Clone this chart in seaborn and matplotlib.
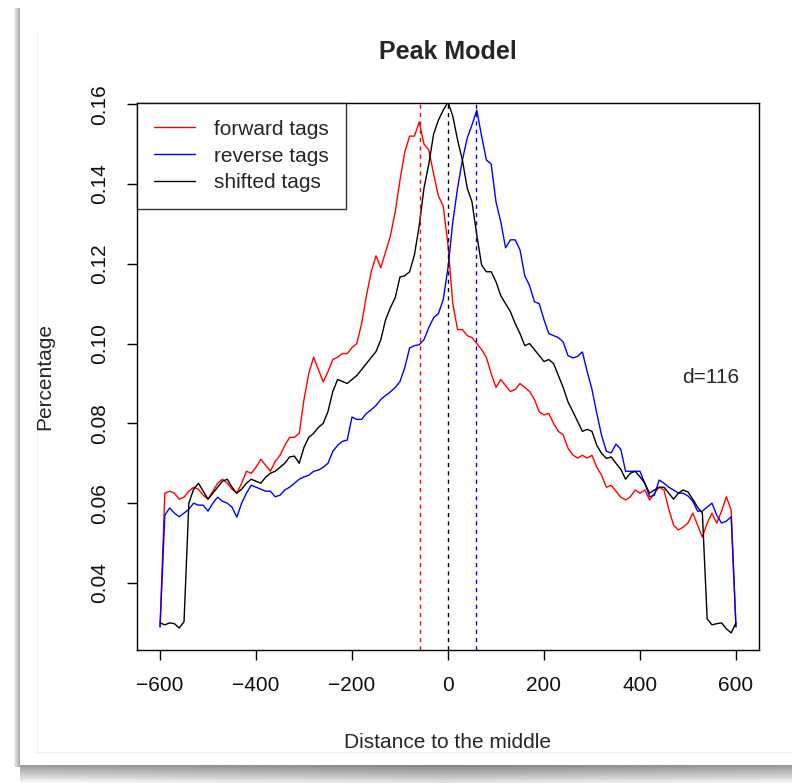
import numpy as np
import pandas as pd
import matplotlib
matplotlib.use("Agg")
import matplotlib.pyplot as plt
import seaborn as sns
from matplotlib.lines import Line2D

# ---------------- data ----------------
distance = list(range(-600, 601, 10))

forward_tags = [
    0.029, 0.0625, 0.063, 0.0625, 0.061, 0.0615, 0.063, 0.064, 0.0635, 0.062,
    0.061, 0.063, 0.065, 0.066, 0.065, 0.0635, 0.0625, 0.065, 0.068, 0.0675,
    0.069, 0.071, 0.0695, 0.068, 0.0705, 0.072, 0.0745, 0.0765, 0.0765, 0.0775,
    0.086, 0.0926, 0.0966, 0.0935, 0.0904, 0.093, 0.096, 0.0966, 0.0975, 0.0975,
    0.099, 0.100, 0.105, 0.112, 0.118, 0.122, 0.119, 0.123, 0.127, 0.133,
    0.141, 0.148, 0.152, 0.152, 0.1555, 0.150, 0.1485, 0.1425, 0.137, 0.1345,
    0.1247, 0.110, 0.1035, 0.1035, 0.102, 0.1015, 0.100, 0.0985, 0.0965, 0.0925,
    0.089, 0.091, 0.0895, 0.088, 0.0885, 0.090, 0.089, 0.088, 0.086, 0.0829,
    0.0821, 0.0825, 0.080, 0.078, 0.0771, 0.0738, 0.0721, 0.0713, 0.072, 0.0713,
    0.072, 0.069, 0.067, 0.064, 0.0645, 0.063, 0.0615, 0.0608, 0.0616, 0.0633,
    0.0625, 0.0633, 0.0608, 0.0625, 0.064, 0.0633, 0.0585, 0.0545, 0.0533, 0.054,
    0.055, 0.0575, 0.0545, 0.0515, 0.055, 0.0575, 0.055, 0.058, 0.0616, 0.0583,
    0.029,
]

reverse_tags = [
    0.029, 0.057, 0.0588, 0.0575, 0.0566, 0.0575, 0.0585, 0.060, 0.0595, 0.0595,
    0.058, 0.060, 0.0615, 0.0605, 0.060, 0.059, 0.0565, 0.060, 0.0625, 0.0645,
    0.064, 0.0635, 0.063, 0.063, 0.0616, 0.062, 0.0633, 0.064, 0.065, 0.066,
    0.0666, 0.067, 0.068, 0.0683, 0.069, 0.070, 0.073, 0.0745, 0.0755, 0.0758,
    0.0816, 0.081, 0.081, 0.0825, 0.0834, 0.0845, 0.086, 0.087, 0.0879, 0.089,
    0.0905, 0.094, 0.0989, 0.0995, 0.0997, 0.101, 0.104, 0.1065, 0.1075, 0.111,
    0.119, 0.1305, 0.139, 0.146, 0.1515, 0.1548, 0.1585, 0.152, 0.146, 0.145,
    0.1355, 0.1305, 0.124, 0.126, 0.126, 0.1235, 0.117, 0.1145, 0.1105, 0.110,
    0.106, 0.1025, 0.102, 0.1015, 0.1004, 0.097, 0.0964, 0.0968, 0.0979, 0.093,
    0.0885, 0.0825, 0.077, 0.073, 0.0726, 0.0748, 0.0735, 0.068, 0.068, 0.068,
    0.068, 0.065, 0.0616, 0.062, 0.0658, 0.065, 0.064, 0.0633, 0.0625, 0.0625,
    0.0618, 0.0605, 0.058, 0.058, 0.059, 0.060, 0.057, 0.055, 0.0555, 0.0566,
    0.029,
]

shifted_tags = [
    0.030, 0.0295, 0.030, 0.0298, 0.0287, 0.0303, 0.060, 0.0635, 0.065, 0.063,
    0.061, 0.0625, 0.064, 0.0655, 0.066, 0.064, 0.0625, 0.0635, 0.065, 0.066,
    0.0655, 0.065, 0.0665, 0.0675, 0.068, 0.069, 0.070, 0.0716, 0.0718, 0.070,
    0.074, 0.0765, 0.0775, 0.079, 0.080, 0.083, 0.088, 0.091, 0.0905, 0.090,
    0.091, 0.092, 0.0935, 0.095, 0.0965, 0.098, 0.101, 0.106, 0.109, 0.1115,
    0.1167, 0.117, 0.118, 0.1222, 0.1295, 0.139, 0.145, 0.1525, 0.156, 0.1585,
    0.1605, 0.157, 0.151, 0.146, 0.139, 0.1355, 0.1272, 0.1197, 0.118, 0.118,
    0.1155, 0.112, 0.110, 0.108, 0.105, 0.1025, 0.0995, 0.100, 0.0985, 0.097,
    0.0955, 0.096, 0.095, 0.092, 0.089, 0.0854, 0.083, 0.0805, 0.078, 0.0785,
    0.078, 0.0745, 0.0725, 0.0712, 0.0716, 0.070, 0.0685, 0.066, 0.0675, 0.068,
    0.0666, 0.065, 0.0625, 0.0633, 0.064, 0.064, 0.0625, 0.061, 0.0625, 0.0633,
    0.0628, 0.061, 0.059, 0.0575, 0.031, 0.0295, 0.0298, 0.030, 0.0285, 0.0275,
    0.030,
]

series_names = ["forward tags", "reverse tags", "shifted tags"]
series_colors = ["#ff0000", "#0000ff", "#000000"]
peak_positions = [-58, 58, 0]   # dotted lines: forward, reverse, shifted
d_value = 116

x_ticks = [-600, -400, -200, 0, 200, 400, 600]
y_ticks = [0.04, 0.06, 0.08, 0.10, 0.12, 0.14, 0.16]

# ---------------- build long-form table ----------------
df = pd.concat([
    pd.DataFrame({"distance": distance, "percentage": vals, "tag": name})
    for name, vals in zip(series_names, [forward_tags, reverse_tags, shifted_tags])
], ignore_index=True)

sns.set_style("white")
plt.rcParams["font.family"] = ["Liberation Sans", "DejaVu Sans"]

W, H = 792, 783
fig = plt.figure(figsize=(W / 100, H / 100), dpi=100, facecolor="white")

# ---------------- card / shadow background ----------------
bg = fig.add_axes([0, 0, 1, 1], zorder=-10)
bg.set_xlim(0, W)
bg.set_ylim(H, 0)
bg.axis("off")
gx = np.linspace(0, 1, 300)
gy = np.linspace(0, 1, 40)
GX, GY = np.meshgrid(gx, gy)
shade = 0.52 + 0.38 * GY + 0.15 * np.abs(GX - 0.55)
bg.imshow(np.clip(shade, 0, 1), cmap="gray", vmin=0, vmax=1, aspect="auto",
          extent=[20, W, H, 765], zorder=1)
lx = np.linspace(0, 1, 6)
bg.imshow(np.tile(0.92 - 0.25 * lx, (10, 1)), cmap="gray", vmin=0, vmax=1,
          aspect="auto", extent=[14, 20, 767, 8], zorder=1)
bg.plot([37, W], [752, 752], color="#ececec", lw=0.8, zorder=2)
bg.plot([37, 37], [30, 752], color="#f2f2f2", lw=0.8, zorder=2)

# ---------------- main plot ----------------
ax = fig.add_axes([137 / W, 1 - 650 / H, (759 - 137) / W, (650 - 103) / H])
ax.set_facecolor("white")

sns.lineplot(data=df, x="distance", y="percentage", hue="tag",
             hue_order=series_names, palette=series_colors,
             estimator=None, sort=False, linewidth=1.0, legend=False, ax=ax)

for pos, col in zip(peak_positions, series_colors):
    ax.axvline(pos, color=col, linestyle=(0, (3, 3)), linewidth=1.0)

ax.set_xlim(-648, 648)
ax.set_ylim(0.0232, 0.1603)
ax.set_xticks(x_ticks)
ax.set_xticklabels(["\u2212600", "\u2212400", "\u2212200", "0", "200", "400", "600"])
ax.set_yticks(y_ticks)
ax.set_yticklabels([f"{v:.2f}" for v in y_ticks], rotation=90, va="center")

for s in ax.spines.values():
    s.set_visible(True)
    s.set_color("black")
    s.set_linewidth(1.0)

ax.tick_params(axis="both", direction="out", length=7, width=1.0,
               color="black", labelsize=15, labelcolor="#111111")
ax.tick_params(axis="x", pad=12, bottom=True)
ax.tick_params(axis="y", pad=13, left=True)

ax.set_xlabel("Distance to the middle", fontsize=15, labelpad=27)
ax.set_ylabel("Percentage", fontsize=15, labelpad=26)
ax.set_title("Peak Model", fontsize=18, fontweight="bold", pad=32)

ax.text(548, 0.0914, f"d={d_value}", fontsize=15, ha="center", va="center")

handles = [Line2D([0], [0], color=c, lw=1.0) for c in series_colors]
leg = ax.legend(handles, series_names, loc="upper left", bbox_to_anchor=(0, 1),
                borderaxespad=0, frameon=True, fancybox=False, fontsize=15,
                handlelength=2.0, handletextpad=0.9, labelspacing=0.38,
                borderpad=0.8)
leg.get_frame().set_edgecolor("black")
leg.get_frame().set_linewidth(1.0)

fig.savefig("out.png", dpi=100, facecolor="white")
